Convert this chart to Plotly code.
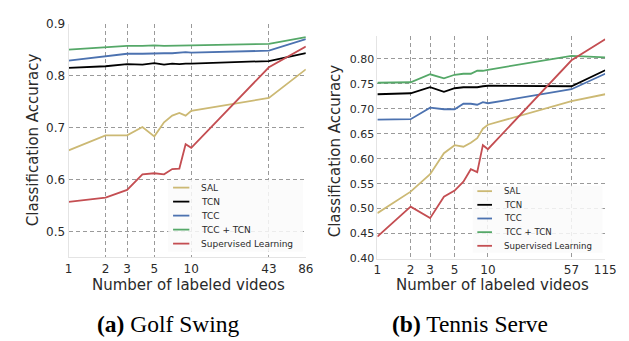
import numpy as np
import plotly.graph_objects as go

W, H = 629, 341

# ---------------- data ----------------
golf_x = [1, 2, 3, 4, 5, 6, 7, 8, 9, 10, 43, 86]
golf_sal = [0.656, 0.685, 0.685, 0.701, 0.683, 0.710, 0.723, 0.728, 0.723, 0.732, 0.757, 0.812]
golf_tcn = [0.815, 0.818, 0.822, 0.821, 0.824, 0.821, 0.823, 0.822, 0.823, 0.823, 0.828, 0.843]
golf_tcc = [0.829, 0.837, 0.842, 0.842, 0.843, 0.843, 0.843, 0.844, 0.845, 0.844, 0.848, 0.870]
golf_tcc_tcn = [0.850, 0.855, 0.857, 0.857, 0.858, 0.857, 0.857, 0.857, 0.857, 0.858, 0.861, 0.874]
golf_sup = [0.557, 0.565, 0.580, 0.610, 0.612, 0.610, 0.620, 0.621, 0.668, 0.661, 0.816, 0.856]
golf_ticks = [1, 2, 3, 5, 10, 43, 86]
golf_yticks = [0.5, 0.6, 0.7, 0.8, 0.9]

tennis_x = [1, 2, 3, 4, 5, 6, 7, 8, 9, 10, 57, 115]
tennis_sal = [0.491, 0.534, 0.569, 0.611, 0.627, 0.624, 0.632, 0.641, 0.660, 0.668, 0.715, 0.729]
tennis_tcn = [0.729, 0.731, 0.743, 0.734, 0.741, 0.743, 0.743, 0.743, 0.745, 0.746, 0.745, 0.777]
tennis_tcc = [0.678, 0.679, 0.702, 0.699, 0.699, 0.710, 0.710, 0.708, 0.713, 0.711, 0.739, 0.770]
tennis_tcc_tcn = [0.752, 0.753, 0.769, 0.761, 0.768, 0.770, 0.770, 0.776, 0.776, 0.778, 0.806, 0.803]
tennis_sup = [0.444, 0.504, 0.481, 0.524, 0.536, 0.554, 0.579, 0.573, 0.627, 0.619, 0.797, 0.839]
tennis_ticks = [1, 2, 3, 5, 10, 57, 115]
tennis_yticks = [0.40, 0.45, 0.50, 0.55, 0.60, 0.65, 0.70, 0.75, 0.80]

series_names = ["SAL", "TCN", "TCC", "TCC + TCN", "Supervised Learning"]
series_colors = ["#ccb974", "#000000", "#4c72b0", "#55a868", "#c44e52"]

golf_series = [golf_sal, golf_tcn, golf_tcc, golf_tcc_tcn, golf_sup]
tennis_series = [tennis_sal, tennis_tcn, tennis_tcc, tennis_tcc_tcn, tennis_sup]

# ---------------- figure ----------------
fig = go.Figure()

for name, color, ys in zip(series_names, series_colors, golf_series):
    fig.add_trace(go.Scatter(x=golf_x, y=ys, mode="lines", name=name,
                             line=dict(color=color, width=1.8),
                             xaxis="x", yaxis="y", showlegend=False))
for name, color, ys in zip(series_names, series_colors, tennis_series):
    fig.add_trace(go.Scatter(x=tennis_x, y=ys, mode="lines", name=name,
                             line=dict(color=color, width=1.8),
                             xaxis="x2", yaxis="y2", showlegend=False))

def px_x(p):
    return p / W

def px_y(p):
    return 1 - p / H

grid = dict(showgrid=True, gridcolor="#9a9a9a", gridwidth=1, griddash="4px,3px",
            zeroline=False, ticks="", showline=True, linecolor="#e4e4e4", linewidth=1,
            tickfont=dict(family="DejaVu Sans", size=12, color="#2a2a2a"))

fig.update_layout(
    width=W, height=H,
    margin=dict(l=0, r=0, t=0, b=0),
    paper_bgcolor="white", plot_bgcolor="white",
    xaxis=dict(type="log", domain=[px_x(58), px_x(301)], anchor="y",
               range=[0, np.log10(86)], tickvals=golf_ticks,
               ticktext=[str(v) for v in golf_ticks], **grid),
    yaxis=dict(domain=[px_y(252.8), px_y(9)], anchor="x", range=[0.45, 0.9],
               tickvals=golf_yticks, ticktext=[f"{v:.1f}" for v in golf_yticks], **grid),
    xaxis2=dict(type="log", domain=[px_x(374.3), px_x(607.7)], anchor="y2",
                range=[0, np.log10(115)], tickvals=tennis_ticks,
                ticktext=[str(v) for v in tennis_ticks], **grid),
    yaxis2=dict(domain=[px_y(254), px_y(21.7)], anchor="x2", range=[0.40, 0.846],
                tickvals=tennis_yticks, ticktext=[f"{v:.2f}" for v in tennis_yticks], **grid),
    showlegend=False,
)
fig.layout.yaxis2.tickfont.size = 11

ann_font = dict(family="DejaVu Sans", size=15, color="#2a2a2a")
annotations = [
    dict(text="Classification Accuracy", x=px_x(21), y=px_y(130), textangle=-90,
         font=ann_font),
    dict(text="Classification Accuracy", x=px_x(331), y=px_y(142), textangle=-90,
         font=ann_font),
    dict(text="Number of labeled videos", x=px_x(181), y=px_y(282), font=ann_font),
    dict(text="Number of labeled videos", x=px_x(492), y=px_y(282), font=ann_font),
    dict(text="<b>(a)</b> Golf Swing", x=px_x(160.5), y=px_y(322),
         font=dict(family="Liberation Serif", size=23.5, color="black")),
    dict(text="<b>(b)</b> Tennis Serve", x=px_x(469), y=px_y(322),
         font=dict(family="Liberation Serif", size=23.5, color="black")),
]
for a in annotations:
    a.update(xref="paper", yref="paper", showarrow=False, xanchor="center", yanchor="middle")

# ---------------- compact legends (matplotlib-like) ----------------
shapes = []
legend_specs = [
    dict(box=(160, 172, 298, 247), sx=(165, 181.7), tx=191.7, y0=180.0, dy=14.6, fs=9),
    dict(box=(472, 178, 605, 248), sx=(476.7, 491.7), tx=502.3, y0=183.7, dy=14.25, fs=8.6),
]
for spec in legend_specs:
    bx0, by0, bx1, by1 = spec["box"]
    shapes.append(dict(type="rect", xref="paper", yref="paper",
                       x0=px_x(bx0), x1=px_x(bx1), y0=px_y(by1), y1=px_y(by0),
                       fillcolor="rgba(250,250,250,0.85)", line=dict(width=0), layer="above"))
    for i, (name, color) in enumerate(zip(series_names, series_colors)):
        yy = spec["y0"] + i * spec["dy"]
        shapes.append(dict(type="line", xref="paper", yref="paper",
                           x0=px_x(spec["sx"][0]), x1=px_x(spec["sx"][1]),
                           y0=px_y(yy), y1=px_y(yy),
                           line=dict(color=color, width=1.8), layer="above"))
        annotations.append(dict(text=name, xref="paper", yref="paper",
                                x=px_x(spec["tx"]), y=px_y(yy), xanchor="left",
                                yanchor="middle", showarrow=False,
                                font=dict(family="DejaVu Sans", size=spec["fs"],
                                          color="#2a2a2a")))

fig.update_layout(annotations=annotations, shapes=shapes)

fig.write_html("out.html")
